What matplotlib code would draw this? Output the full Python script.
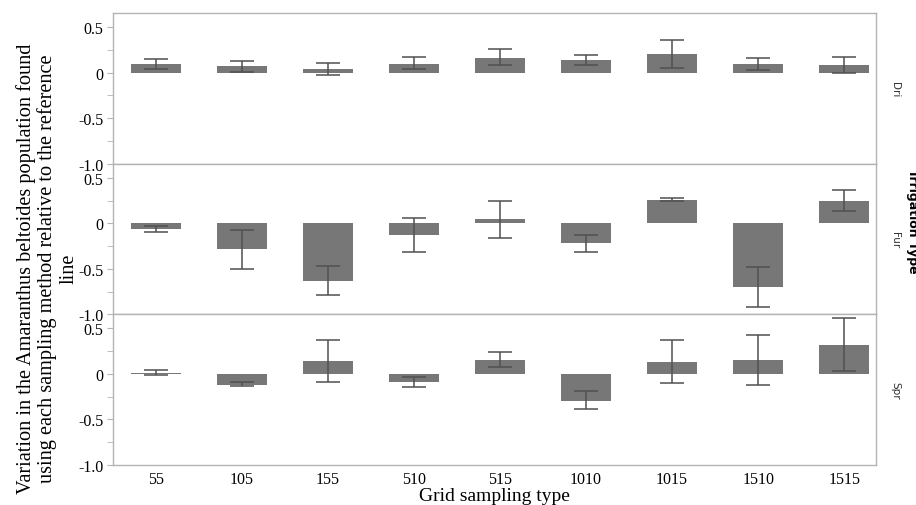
import numpy as np
import matplotlib
matplotlib.use("Agg")
import matplotlib.pyplot as plt
from matplotlib.ticker import FixedLocator

# grid sampling types
grid_types = ["55", "105", "155", "510", "515", "1010", "1015", "1510", "1515"]
irrigation = ["Dri", "Fur", "Spr"]

# mean variation per grid type, one list per irrigation type
dri_mean = [0.09, 0.068, 0.036, 0.10, 0.166, 0.134, 0.21, 0.09, 0.08]
fur_mean = [-0.063, -0.285, -0.63, -0.127, 0.044, -0.22, 0.256, -0.697, 0.244]
spr_mean = [0.011, -0.118, 0.144, -0.085, 0.155, -0.295, 0.133, 0.155, 0.32]

# lower / upper ends of the error bars
dri_low = [0.036, 0.007, -0.03, 0.043, 0.08, 0.087, 0.054, 0.03, -0.008]
dri_high = [0.148, 0.126, 0.105, 0.17, 0.26, 0.19, 0.36, 0.16, 0.174]
fur_low = [-0.097, -0.5, -0.79, -0.32, -0.16, -0.315, 0.24, -0.92, 0.133]
fur_high = [-0.026, -0.078, -0.47, 0.059, 0.25, -0.126, 0.28, -0.48, 0.363]
spr_low = [-0.011, -0.136, -0.092, -0.14, 0.074, -0.39, -0.103, -0.122, 0.03]
spr_high = [0.04, -0.092, 0.372, -0.037, 0.246, -0.191, 0.376, 0.428, 0.615]

means = [dri_mean, fur_mean, spr_mean]
lows = [dri_low, fur_low, spr_low]
highs = [dri_high, fur_high, spr_high]

serif = "Liberation Serif"
spine_col = "#b4b4b4"

fig = plt.figure(figsize=(9.16, 5.06), dpi=100)
top, bottom = 1 - 14 / 506, 1 - 466 / 506
left, right = 113 / 916, 876 / 916
h = (top - bottom) / 3

x = np.arange(len(grid_types))
for i in range(3):
    ax = fig.add_axes([left, top - (i + 1) * h, right - left, h])
    m = np.array(means[i])
    lo = np.clip(m - np.array(lows[i]), 0, None)
    hi = np.clip(np.array(highs[i]) - m, 0, None)
    ax.bar(x, m, width=0.58, color="#777777", zorder=2)
    ax.errorbar(x, m, yerr=[lo, hi], fmt="none", ecolor="#505050",
                elinewidth=1.1, capsize=8.6, capthick=1.1, zorder=3)
    ax.set_xlim(-0.5, 8.37)
    ax.set_ylim(-1.0, 0.655)
    ax.yaxis.set_major_locator(FixedLocator([-1.0, -0.5, 0, 0.5]))
    ax.set_yticklabels(["-1.0", "-0.5", "0", "0.5"])
    ax.yaxis.set_minor_locator(FixedLocator([-0.75, -0.25, 0.25]))
    ax.tick_params(axis="y", which="both", length=4, color=spine_col,
                   labelsize=11.5, pad=3)
    for lab in ax.get_yticklabels():
        lab.set_family(serif)
    ax.set_xticks(x)
    if i < 2:
        ax.set_xticklabels([])
    else:
        ax.set_xticklabels(grid_types, family=serif, fontsize=11.5)
    ax.tick_params(axis="x", length=0, pad=4)
    for s in ax.spines.values():
        s.set_color(spine_col)
        s.set_linewidth(1.0)
    ax.text(1.025, 0.5, irrigation[i], transform=ax.transAxes, rotation=-90,
            ha="center", va="center", fontsize=7.5, family="DejaVu Sans",
            color="#333333")

fig.text(47 / 916, 0.468,
         "Variation in the Amaranthus beltoides population found\n"
         "using each sampling method relative to the reference\nline",
         rotation=90, ha="center", va="center", multialignment="center",
         family=serif, fontsize=14.6, linespacing=1.12)
fig.text((left + right) / 2, 1 - 488.5 / 506, "Grid sampling type",
         ha="center", va="top", family=serif, fontsize=14)
fig.text(906 / 916, 1 - 222 / 506, "Irrigation Type", rotation=-90, ha="left",
         va="center", fontsize=9, fontweight="bold", family="DejaVu Sans")

fig.savefig("out.png", dpi=100)
